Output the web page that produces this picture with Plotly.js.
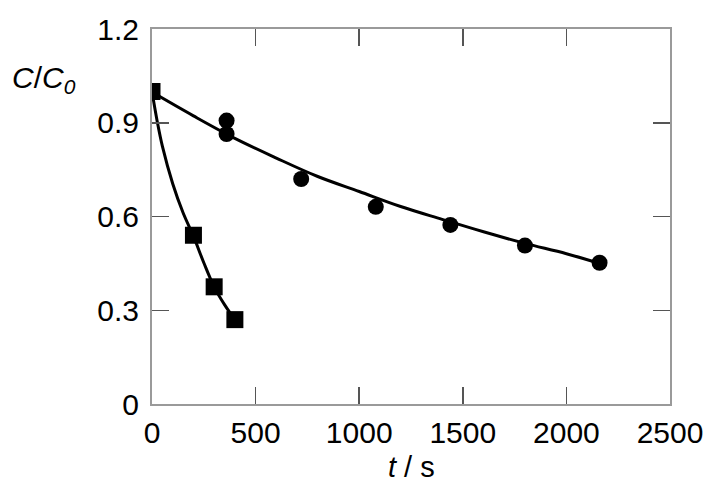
<!DOCTYPE html>
<html>
<head>
<meta charset="utf-8">
<script src="https://cdn.plot.ly/plotly-3.0.1.min.js"></script>
<style>html,body{margin:0;padding:0;background:#fff;}#chart{width:711px;height:485px;}</style>
</head>
<body>
<div id="chart"></div>
<script>
// Measured data: squares (fast decay) and circles (slow decay)
var squareT = [0, 200, 300, 400];
var squareC = [1.0, 0.54, 0.375, 0.27];
var circleT = [360, 360, 720, 1080, 1440, 1800, 2160];
var circleC = [0.907, 0.864, 0.72, 0.631, 0.573, 0.507, 0.452];

// Fitted curves
var fitSquareT = [0, 25, 50, 100, 150, 200, 250, 300, 350, 400];
var fitSquareC = [1.0, 0.905, 0.825, 0.705, 0.612, 0.537, 0.452, 0.375, 0.318, 0.27];
var fitCircleT = [0, 200, 400, 600, 800, 1000, 1200, 1400, 1600, 1800, 2000, 2180];
var fitCircleC = [0.998, 0.922, 0.850, 0.787, 0.728, 0.680, 0.632, 0.591, 0.551, 0.514, 0.481, 0.446];

var xTicks = [0, 500, 1000, 1500, 2000, 2500];
var yTicks = [0, 0.3, 0.6, 0.9, 1.2];
var yTickText = ['0', '0.3', '0.6', '0.9', '1.2'];

var font = 'Liberation Sans, Arial, sans-serif';
var fs = 30;
var titleFs = 29;

var traces = [
  {x: fitSquareT, y: fitSquareC, mode: 'lines', line: {color: '#000', width: 3, shape: 'spline'}, hoverinfo: 'skip'},
  {x: fitCircleT, y: fitCircleC, mode: 'lines', line: {color: '#000', width: 3, shape: 'spline'}, hoverinfo: 'skip'},
  {x: squareT, y: squareC, mode: 'markers', marker: {symbol: 'square', size: 17, color: '#000'}},
  {x: circleT, y: circleC, mode: 'markers', marker: {symbol: 'circle', size: 16, color: '#000'}}
];

var axisCommon = {
  showgrid: false, zeroline: false,
  showline: true, linecolor: '#9a9a9a', linewidth: 2, mirror: 'ticks',
  ticks: 'inside', ticklen: 17, tickwidth: 1.5, tickcolor: '#555',
  tickfont: {family: font, size: fs, color: '#000'}
};

var layout = {
  width: 711, height: 485,
  margin: {l: 152, r: 41, t: 29, b: 81},
  paper_bgcolor: '#fff', plot_bgcolor: '#fff',
  showlegend: false,
  xaxis: Object.assign({}, axisCommon, {
    range: [0, 2500], tickvals: xTicks, ticktext: xTicks.map(String),
    ticklabelstandoff: 1
  }),
  yaxis: Object.assign({}, axisCommon, {
    range: [0, 1.2], tickvals: yTicks, ticktext: yTickText,
    ticklabelstandoff: 5
  }),
  annotations: [{
    xref: 'paper', yref: 'paper', x: -0.275, y: 0.865, xanchor: 'left', yanchor: 'middle',
    text: '<i>C</i>/<i>C</i><sub><i>0</i></sub>', showarrow: false,
    font: {family: font, size: fs, color: '#000'}
  }, {
    xref: 'paper', yref: 'paper', x: 0.5, y: 0, yshift: -63, xanchor: 'center', yanchor: 'middle',
    text: '<i>t</i> / s', showarrow: false,
    font: {family: font, size: titleFs, color: '#000'}
  }]
};

Plotly.newPlot('chart', traces, layout, {displayModeBar: false, staticPlot: true});
</script>
</body>
</html>
